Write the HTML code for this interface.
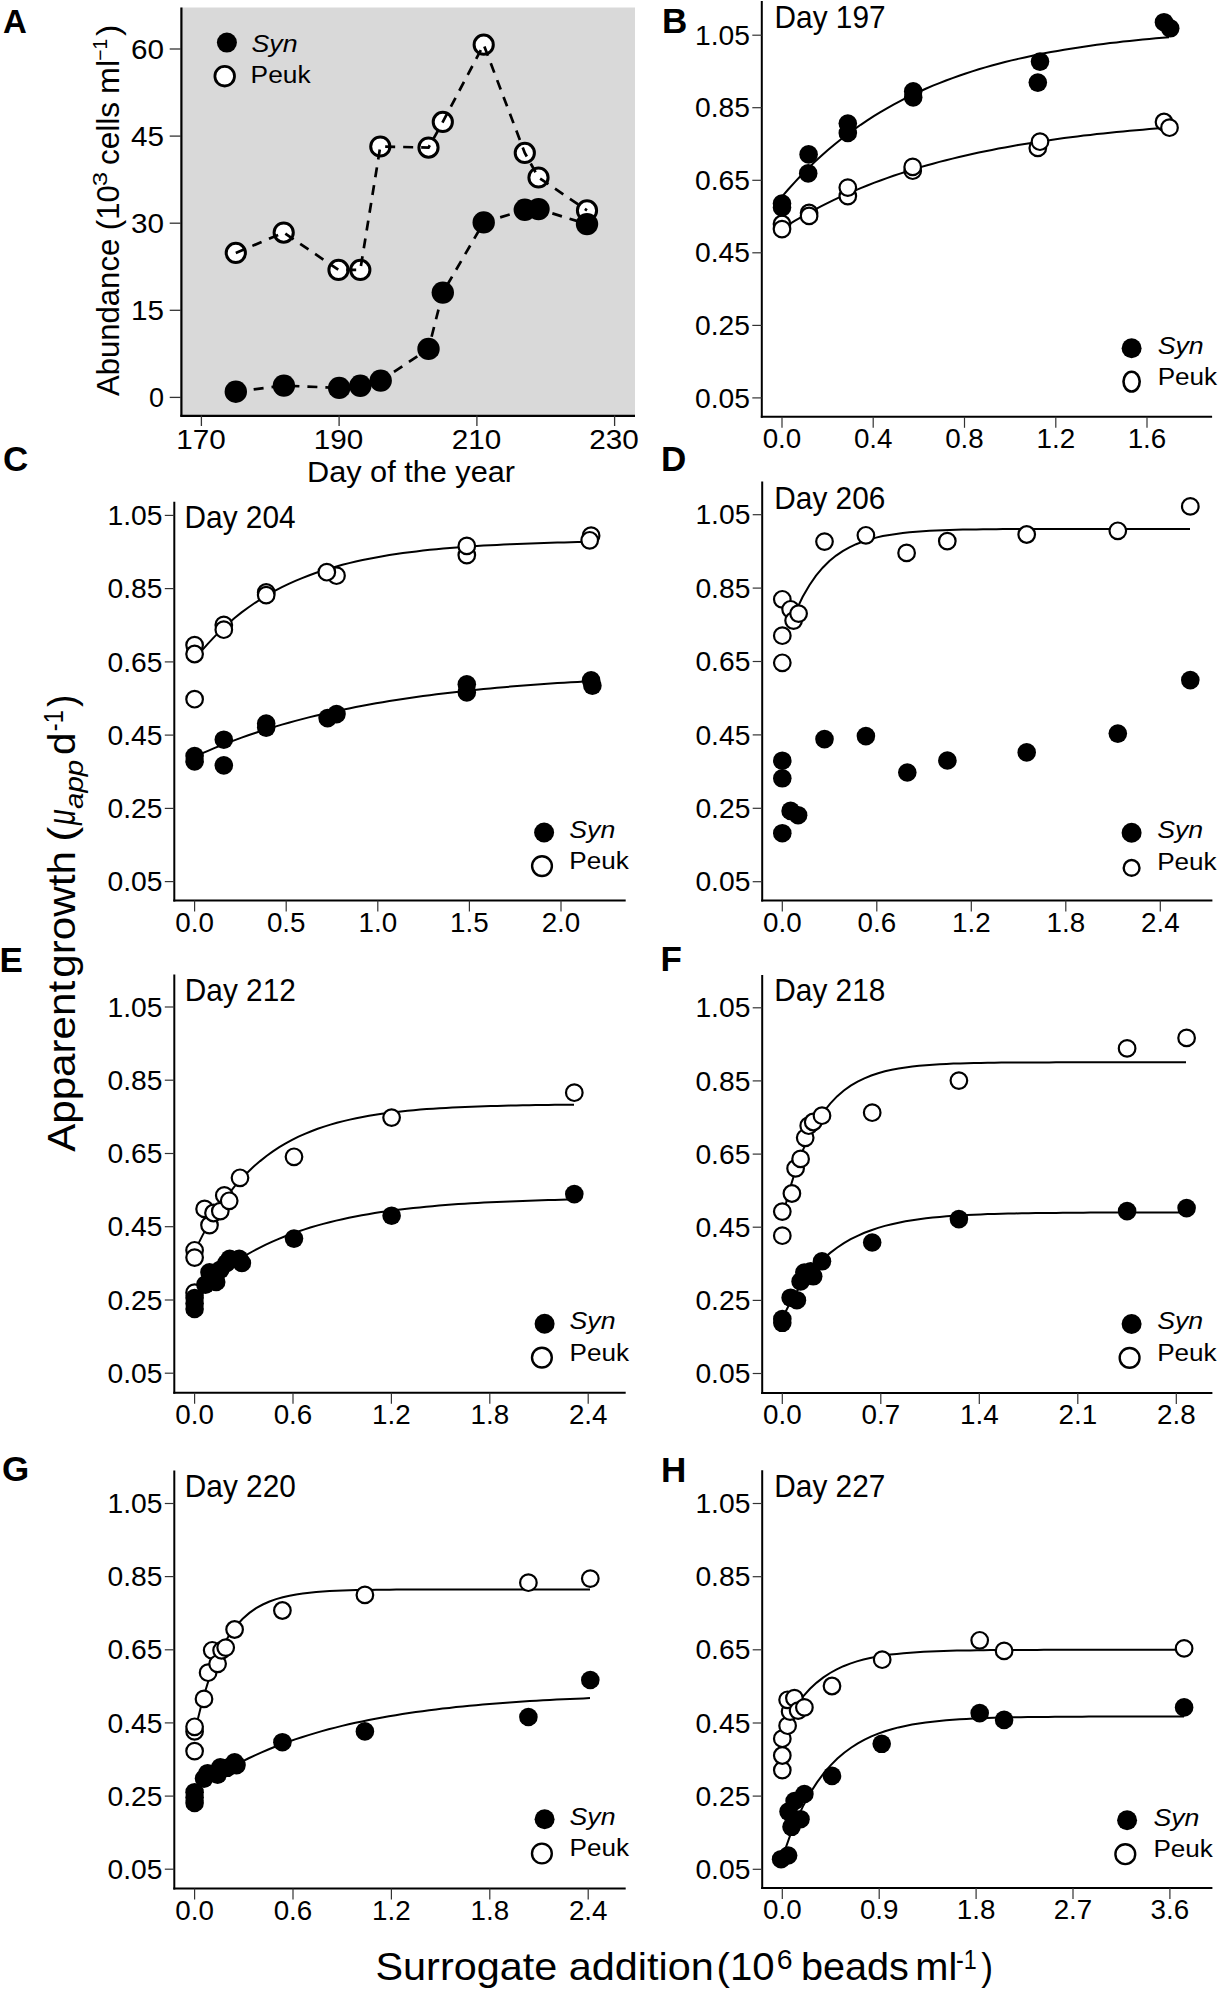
<!DOCTYPE html>
<html><head><meta charset="utf-8"><style>
html,body{margin:0;padding:0;background:#fff;}
svg{display:block;}
text{font-family:"Liberation Sans", sans-serif;fill:#000;}
</style></head><body>
<svg width="1221" height="1992" viewBox="0 0 1221 1992">
<rect width="1221" height="1992" fill="#fff"/>
<rect x="181" y="7.5" width="454" height="408" fill="#d9d9d9"/>
<line x1="181.4" y1="7.5" x2="181.4" y2="416.6" stroke="#000" stroke-width="2.2"/>
<line x1="180.3" y1="415.8" x2="635" y2="415.8" stroke="#000" stroke-width="2.2"/>
<line x1="169.7" y1="397.4" x2="181" y2="397.4" stroke="#333" stroke-width="1.3"/>
<text x="164.0" y="406.9" font-size="27" text-anchor="end" font-weight="normal" font-style="normal" >0</text>
<line x1="169.7" y1="310.3" x2="181" y2="310.3" stroke="#333" stroke-width="1.3"/>
<text x="164.0" y="319.8" font-size="27" text-anchor="end" font-weight="normal" font-style="normal" textLength="33.0" lengthAdjust="spacingAndGlyphs" >15</text>
<line x1="169.7" y1="223.2" x2="181" y2="223.2" stroke="#333" stroke-width="1.3"/>
<text x="164.0" y="232.7" font-size="27" text-anchor="end" font-weight="normal" font-style="normal" textLength="33.0" lengthAdjust="spacingAndGlyphs" >30</text>
<line x1="169.7" y1="136.1" x2="181" y2="136.1" stroke="#333" stroke-width="1.3"/>
<text x="164.0" y="145.6" font-size="27" text-anchor="end" font-weight="normal" font-style="normal" textLength="33.0" lengthAdjust="spacingAndGlyphs" >45</text>
<line x1="169.7" y1="49.0" x2="181" y2="49.0" stroke="#333" stroke-width="1.3"/>
<text x="164.0" y="58.5" font-size="27" text-anchor="end" font-weight="normal" font-style="normal" textLength="33.0" lengthAdjust="spacingAndGlyphs" >60</text>
<line x1="201.4" y1="415.5" x2="201.4" y2="426" stroke="#333" stroke-width="1.3"/>
<text x="200.9" y="448.8" font-size="27" text-anchor="middle" font-weight="normal" font-style="normal" textLength="49.5" lengthAdjust="spacingAndGlyphs" >170</text>
<line x1="339.1" y1="415.5" x2="339.1" y2="426" stroke="#333" stroke-width="1.3"/>
<text x="338.6" y="448.8" font-size="27" text-anchor="middle" font-weight="normal" font-style="normal" textLength="49.5" lengthAdjust="spacingAndGlyphs" >190</text>
<line x1="476.9" y1="415.5" x2="476.9" y2="426" stroke="#333" stroke-width="1.3"/>
<text x="476.4" y="448.8" font-size="27" text-anchor="middle" font-weight="normal" font-style="normal" textLength="49.5" lengthAdjust="spacingAndGlyphs" >210</text>
<line x1="614.6" y1="415.5" x2="614.6" y2="426" stroke="#333" stroke-width="1.3"/>
<text x="614.1" y="448.8" font-size="27" text-anchor="middle" font-weight="normal" font-style="normal" textLength="49.5" lengthAdjust="spacingAndGlyphs" >230</text>
<text x="307.0" y="481.5" font-size="30" text-anchor="start" font-weight="normal" font-style="normal" textLength="208" lengthAdjust="spacingAndGlyphs" >Day of the year</text>
<text x="3.0" y="32.7" font-size="33" text-anchor="start" font-weight="bold" font-style="normal" >A</text>
<circle cx="235.8" cy="252.9" r="9.6" fill="#fff" stroke="#000" stroke-width="3"/>
<circle cx="283.7" cy="232.6" r="9.6" fill="#fff" stroke="#000" stroke-width="3"/>
<circle cx="338.5" cy="269.9" r="9.6" fill="#fff" stroke="#000" stroke-width="3"/>
<circle cx="360.3" cy="269.9" r="9.6" fill="#fff" stroke="#000" stroke-width="3"/>
<circle cx="380.3" cy="146.5" r="9.6" fill="#fff" stroke="#000" stroke-width="3"/>
<circle cx="428.5" cy="147.6" r="9.6" fill="#fff" stroke="#000" stroke-width="3"/>
<circle cx="442.8" cy="121.9" r="9.6" fill="#fff" stroke="#000" stroke-width="3"/>
<circle cx="483.7" cy="44.7" r="9.6" fill="#fff" stroke="#000" stroke-width="3"/>
<circle cx="524.8" cy="152.9" r="9.6" fill="#fff" stroke="#000" stroke-width="3"/>
<circle cx="538.5" cy="177.5" r="9.6" fill="#fff" stroke="#000" stroke-width="3"/>
<circle cx="587.0" cy="210.4" r="9.6" fill="#fff" stroke="#000" stroke-width="3"/>
<circle cx="235.8" cy="391.7" r="11.2" fill="#000"/>
<circle cx="283.9" cy="385.6" r="11.2" fill="#000"/>
<circle cx="339.2" cy="387.9" r="11.2" fill="#000"/>
<circle cx="360.3" cy="385.8" r="11.2" fill="#000"/>
<circle cx="380.7" cy="380.6" r="11.2" fill="#000"/>
<circle cx="428.5" cy="348.9" r="11.2" fill="#000"/>
<circle cx="442.8" cy="292.6" r="11.2" fill="#000"/>
<circle cx="483.7" cy="222.4" r="11.2" fill="#000"/>
<circle cx="524.8" cy="209.8" r="11.2" fill="#000"/>
<circle cx="538.5" cy="209.1" r="11.2" fill="#000"/>
<circle cx="587.0" cy="224.1" r="11.2" fill="#000"/>
<path d="M235.8,252.9 L283.7,232.6 L338.5,269.9 L360.3,269.9 L380.3,146.5 L428.5,147.6 L442.8,121.9 L483.7,44.7 L524.8,152.9 L538.5,177.5 L587,210.4" fill="none" stroke="#000" stroke-width="2.7" stroke-dasharray="10 8"/>
<path d="M235.8,391.7 L283.9,385.6 L339.2,387.9 L360.3,385.8 L380.7,380.6 L428.5,348.9 L442.8,292.6 L483.7,222.4 L524.8,209.8 L538.5,209.1 L587,224.1" fill="none" stroke="#000" stroke-width="2.7" stroke-dasharray="10 8"/>
<circle cx="226.9" cy="42.6" r="10" fill="#000"/>
<circle cx="224.7" cy="76.2" r="9.8" fill="#fff" stroke="#000" stroke-width="2.8"/>
<text x="251.5" y="51.6" font-size="23" text-anchor="start" font-weight="normal" font-style="italic" textLength="46" lengthAdjust="spacingAndGlyphs" >Syn</text>
<text x="250.6" y="82.7" font-size="23" text-anchor="start" font-weight="normal" font-style="normal" textLength="60" lengthAdjust="spacingAndGlyphs" >Peuk</text>
<line x1="761.8" y1="1" x2="761.8" y2="417.8" stroke="#000" stroke-width="2"/>
<line x1="760.8" y1="416.8" x2="1212.1" y2="416.8" stroke="#000" stroke-width="2"/>
<line x1="752.3" y1="35.2" x2="761.8" y2="35.2" stroke="#333" stroke-width="1.2"/>
<text x="750.0" y="44.8" font-size="27" text-anchor="end" font-weight="normal" font-style="normal" textLength="55" lengthAdjust="spacingAndGlyphs" >1.05</text>
<line x1="752.3" y1="107.7" x2="761.8" y2="107.7" stroke="#333" stroke-width="1.2"/>
<text x="750.0" y="117.3" font-size="27" text-anchor="end" font-weight="normal" font-style="normal" textLength="55" lengthAdjust="spacingAndGlyphs" >0.85</text>
<line x1="752.3" y1="180.3" x2="761.8" y2="180.3" stroke="#333" stroke-width="1.2"/>
<text x="750.0" y="189.9" font-size="27" text-anchor="end" font-weight="normal" font-style="normal" textLength="55" lengthAdjust="spacingAndGlyphs" >0.65</text>
<line x1="752.3" y1="252.8" x2="761.8" y2="252.8" stroke="#333" stroke-width="1.2"/>
<text x="750.0" y="262.4" font-size="27" text-anchor="end" font-weight="normal" font-style="normal" textLength="55" lengthAdjust="spacingAndGlyphs" >0.45</text>
<line x1="752.3" y1="325.4" x2="761.8" y2="325.4" stroke="#333" stroke-width="1.2"/>
<text x="750.0" y="335.0" font-size="27" text-anchor="end" font-weight="normal" font-style="normal" textLength="55" lengthAdjust="spacingAndGlyphs" >0.25</text>
<line x1="752.3" y1="397.9" x2="761.8" y2="397.9" stroke="#333" stroke-width="1.2"/>
<text x="750.0" y="407.5" font-size="27" text-anchor="end" font-weight="normal" font-style="normal" textLength="55" lengthAdjust="spacingAndGlyphs" >0.05</text>
<line x1="782.0" y1="416.8" x2="782.0" y2="427.8" stroke="#333" stroke-width="1.2"/>
<text x="782.0" y="448.1" font-size="27" text-anchor="middle" font-weight="normal" font-style="normal" textLength="38.6" lengthAdjust="spacingAndGlyphs" >0.0</text>
<line x1="873.2" y1="416.8" x2="873.2" y2="427.8" stroke="#333" stroke-width="1.2"/>
<text x="873.2" y="448.1" font-size="27" text-anchor="middle" font-weight="normal" font-style="normal" textLength="38.6" lengthAdjust="spacingAndGlyphs" >0.4</text>
<line x1="964.5" y1="416.8" x2="964.5" y2="427.8" stroke="#333" stroke-width="1.2"/>
<text x="964.5" y="448.1" font-size="27" text-anchor="middle" font-weight="normal" font-style="normal" textLength="38.6" lengthAdjust="spacingAndGlyphs" >0.8</text>
<line x1="1055.8" y1="416.8" x2="1055.8" y2="427.8" stroke="#333" stroke-width="1.2"/>
<text x="1055.8" y="448.1" font-size="27" text-anchor="middle" font-weight="normal" font-style="normal" textLength="38.6" lengthAdjust="spacingAndGlyphs" >1.2</text>
<line x1="1147.0" y1="416.8" x2="1147.0" y2="427.8" stroke="#333" stroke-width="1.2"/>
<text x="1147.0" y="448.1" font-size="27" text-anchor="middle" font-weight="normal" font-style="normal" textLength="38.6" lengthAdjust="spacingAndGlyphs" >1.6</text>
<text x="774.6" y="28.0" font-size="30.5" text-anchor="start" font-weight="normal" font-style="normal" textLength="111" lengthAdjust="spacingAndGlyphs" >Day 197</text>
<text x="662.0" y="33.3" font-size="35" text-anchor="start" font-weight="bold" font-style="normal" >B</text>
<path d="M782.0,196.6 L788.6,189.0 L795.1,181.8 L801.7,174.8 L808.2,168.2 L814.8,161.9 L821.4,155.8 L827.9,150.0 L834.5,144.5 L841.0,139.2 L847.6,134.2 L854.2,129.4 L860.7,124.8 L867.3,120.4 L873.8,116.1 L880.4,112.1 L886.9,108.3 L893.5,104.6 L900.1,101.1 L906.6,97.7 L913.2,94.5 L919.7,91.5 L926.3,88.5 L932.9,85.7 L939.4,83.1 L946.0,80.5 L952.5,78.1 L959.1,75.7 L965.7,73.5 L972.2,71.4 L978.8,69.3 L985.3,67.4 L991.9,65.5 L998.5,63.7 L1005.0,62.0 L1011.6,60.4 L1018.1,58.9 L1024.7,57.4 L1031.3,56.0 L1037.8,54.6 L1044.4,53.3 L1050.9,52.1 L1057.5,50.9 L1064.1,49.8 L1070.6,48.7 L1077.2,47.7 L1083.7,46.7 L1090.3,45.7 L1096.8,44.8 L1103.4,44.0 L1110.0,43.1 L1116.5,42.4 L1123.1,41.6 L1129.6,40.9 L1136.2,40.2 L1142.8,39.5 L1149.3,38.9 L1155.9,38.3 L1162.4,37.7 L1169.0,37.2" fill="none" stroke="#000" stroke-width="2"/>
<path d="M782.0,228.7 L788.6,224.6 L795.1,220.6 L801.7,216.8 L808.2,213.2 L814.8,209.6 L821.4,206.2 L827.9,202.9 L834.5,199.7 L841.0,196.7 L847.6,193.7 L854.2,190.9 L860.7,188.1 L867.3,185.5 L873.8,182.9 L880.4,180.5 L886.9,178.1 L893.5,175.8 L900.1,173.6 L906.6,171.5 L913.2,169.4 L919.7,167.4 L926.3,165.5 L932.9,163.7 L939.4,161.9 L946.0,160.2 L952.5,158.6 L959.1,157.0 L965.7,155.5 L972.2,154.0 L978.8,152.6 L985.3,151.2 L991.9,149.9 L998.5,148.6 L1005.0,147.4 L1011.6,146.2 L1018.1,145.0 L1024.7,143.9 L1031.3,142.9 L1037.8,141.8 L1044.4,140.9 L1050.9,139.9 L1057.5,139.0 L1064.1,138.1 L1070.6,137.3 L1077.2,136.4 L1083.7,135.6 L1090.3,134.9 L1096.8,134.1 L1103.4,133.4 L1110.0,132.7 L1116.5,132.1 L1123.1,131.4 L1129.6,130.8 L1136.2,130.2 L1142.8,129.7 L1149.3,129.1 L1155.9,128.6 L1162.4,128.1 L1169.0,127.6" fill="none" stroke="#000" stroke-width="2"/>
<circle cx="782.0" cy="224.0" r="8.3" fill="#fff" stroke="#000" stroke-width="2.2"/>
<circle cx="782.0" cy="229.1" r="8.3" fill="#fff" stroke="#000" stroke-width="2.2"/>
<circle cx="809.1" cy="213.0" r="8.3" fill="#fff" stroke="#000" stroke-width="2.2"/>
<circle cx="809.1" cy="215.9" r="8.3" fill="#fff" stroke="#000" stroke-width="2.2"/>
<circle cx="847.8" cy="196.1" r="8.3" fill="#fff" stroke="#000" stroke-width="2.2"/>
<circle cx="847.8" cy="187.6" r="8.3" fill="#fff" stroke="#000" stroke-width="2.2"/>
<circle cx="912.7" cy="170.7" r="8.3" fill="#fff" stroke="#000" stroke-width="2.2"/>
<circle cx="912.7" cy="166.9" r="8.3" fill="#fff" stroke="#000" stroke-width="2.2"/>
<circle cx="1164.0" cy="122.0" r="8.3" fill="#fff" stroke="#000" stroke-width="2.2"/>
<circle cx="1169.5" cy="127.7" r="8.3" fill="#fff" stroke="#000" stroke-width="2.2"/>
<circle cx="1037.8" cy="147.9" r="8.3" fill="#fff" stroke="#000" stroke-width="2.2"/>
<circle cx="1040.0" cy="141.7" r="8.3" fill="#fff" stroke="#000" stroke-width="2.2"/>
<circle cx="782.0" cy="203.5" r="9.3" fill="#000"/>
<circle cx="782.0" cy="207.5" r="9.3" fill="#000"/>
<circle cx="808.6" cy="154.4" r="9.3" fill="#000"/>
<circle cx="808.2" cy="173.4" r="9.3" fill="#000"/>
<circle cx="847.8" cy="123.5" r="9.3" fill="#000"/>
<circle cx="847.8" cy="133.0" r="9.3" fill="#000"/>
<circle cx="913.2" cy="91.4" r="9.3" fill="#000"/>
<circle cx="913.2" cy="97.4" r="9.3" fill="#000"/>
<circle cx="1164.0" cy="22.2" r="9.3" fill="#000"/>
<circle cx="1170.2" cy="28.3" r="9.3" fill="#000"/>
<circle cx="1040.0" cy="61.6" r="9.3" fill="#000"/>
<circle cx="1037.8" cy="82.6" r="9.3" fill="#000"/>
<circle cx="1131.6" cy="348.2" r="10" fill="#000"/>
<ellipse cx="1131.6" cy="381.6" rx="8.1" ry="9.9" fill="#fff" stroke="#000" stroke-width="2.6"/>
<text x="1157.7" y="353.5" font-size="23" text-anchor="start" font-weight="normal" font-style="italic" textLength="46" lengthAdjust="spacingAndGlyphs" >Syn</text>
<text x="1157.7" y="385.0" font-size="23" text-anchor="start" font-weight="normal" font-style="normal" textLength="59.5" lengthAdjust="spacingAndGlyphs" >Peuk</text>
<line x1="174.3" y1="501.8" x2="174.3" y2="901.5" stroke="#000" stroke-width="2"/>
<line x1="173.3" y1="900.5" x2="625.7" y2="900.5" stroke="#000" stroke-width="2"/>
<line x1="164.8" y1="515.4" x2="174.3" y2="515.4" stroke="#333" stroke-width="1.2"/>
<text x="162.5" y="525.0" font-size="27" text-anchor="end" font-weight="normal" font-style="normal" textLength="55" lengthAdjust="spacingAndGlyphs" >1.05</text>
<line x1="164.8" y1="588.6" x2="174.3" y2="588.6" stroke="#333" stroke-width="1.2"/>
<text x="162.5" y="598.2" font-size="27" text-anchor="end" font-weight="normal" font-style="normal" textLength="55" lengthAdjust="spacingAndGlyphs" >0.85</text>
<line x1="164.8" y1="661.9" x2="174.3" y2="661.9" stroke="#333" stroke-width="1.2"/>
<text x="162.5" y="671.5" font-size="27" text-anchor="end" font-weight="normal" font-style="normal" textLength="55" lengthAdjust="spacingAndGlyphs" >0.65</text>
<line x1="164.8" y1="735.1" x2="174.3" y2="735.1" stroke="#333" stroke-width="1.2"/>
<text x="162.5" y="744.7" font-size="27" text-anchor="end" font-weight="normal" font-style="normal" textLength="55" lengthAdjust="spacingAndGlyphs" >0.45</text>
<line x1="164.8" y1="808.4" x2="174.3" y2="808.4" stroke="#333" stroke-width="1.2"/>
<text x="162.5" y="818.0" font-size="27" text-anchor="end" font-weight="normal" font-style="normal" textLength="55" lengthAdjust="spacingAndGlyphs" >0.25</text>
<line x1="164.8" y1="881.6" x2="174.3" y2="881.6" stroke="#333" stroke-width="1.2"/>
<text x="162.5" y="891.2" font-size="27" text-anchor="end" font-weight="normal" font-style="normal" textLength="55" lengthAdjust="spacingAndGlyphs" >0.05</text>
<line x1="194.6" y1="900.5" x2="194.6" y2="911.5" stroke="#333" stroke-width="1.2"/>
<text x="194.6" y="931.8" font-size="27" text-anchor="middle" font-weight="normal" font-style="normal" textLength="38.6" lengthAdjust="spacingAndGlyphs" >0.0</text>
<line x1="286.2" y1="900.5" x2="286.2" y2="911.5" stroke="#333" stroke-width="1.2"/>
<text x="286.2" y="931.8" font-size="27" text-anchor="middle" font-weight="normal" font-style="normal" textLength="38.6" lengthAdjust="spacingAndGlyphs" >0.5</text>
<line x1="377.8" y1="900.5" x2="377.8" y2="911.5" stroke="#333" stroke-width="1.2"/>
<text x="377.8" y="931.8" font-size="27" text-anchor="middle" font-weight="normal" font-style="normal" textLength="38.6" lengthAdjust="spacingAndGlyphs" >1.0</text>
<line x1="469.4" y1="900.5" x2="469.4" y2="911.5" stroke="#333" stroke-width="1.2"/>
<text x="469.4" y="931.8" font-size="27" text-anchor="middle" font-weight="normal" font-style="normal" textLength="38.6" lengthAdjust="spacingAndGlyphs" >1.5</text>
<line x1="561.0" y1="900.5" x2="561.0" y2="911.5" stroke="#333" stroke-width="1.2"/>
<text x="561.0" y="931.8" font-size="27" text-anchor="middle" font-weight="normal" font-style="normal" textLength="38.6" lengthAdjust="spacingAndGlyphs" >2.0</text>
<text x="184.6" y="528.3" font-size="30.5" text-anchor="start" font-weight="normal" font-style="normal" textLength="111" lengthAdjust="spacingAndGlyphs" >Day 204</text>
<text x="3.0" y="471.0" font-size="35" text-anchor="start" font-weight="bold" font-style="normal" >C</text>
<path d="M194.6,756.7 L201.3,753.7 L208.0,750.8 L214.8,747.9 L221.5,745.2 L228.2,742.6 L234.9,740.1 L241.6,737.6 L248.3,735.2 L255.1,733.0 L261.8,730.8 L268.5,728.7 L275.2,726.6 L281.9,724.6 L288.7,722.7 L295.4,720.9 L302.1,719.1 L308.8,717.4 L315.5,715.8 L322.3,714.2 L329.0,712.6 L335.7,711.2 L342.4,709.7 L349.1,708.4 L355.8,707.0 L362.6,705.8 L369.3,704.5 L376.0,703.3 L382.7,702.2 L389.4,701.1 L396.2,700.0 L402.9,699.0 L409.6,698.0 L416.3,697.0 L423.0,696.1 L429.8,695.2 L436.5,694.3 L443.2,693.5 L449.9,692.7 L456.6,691.9 L463.3,691.2 L470.1,690.5 L476.8,689.8 L483.5,689.1 L490.2,688.4 L496.9,687.8 L503.7,687.2 L510.4,686.6 L517.1,686.1 L523.8,685.5 L530.5,685.0 L537.3,684.5 L544.0,684.0 L550.7,683.6 L557.4,683.1 L564.1,682.7 L570.8,682.3 L577.6,681.9 L584.3,681.5 L591.0,681.1" fill="none" stroke="#000" stroke-width="2"/>
<path d="M194.6,659.5 L201.3,651.2 L208.0,643.6 L214.8,636.4 L221.5,629.8 L228.2,623.6 L234.9,617.8 L241.6,612.4 L248.3,607.5 L255.1,602.8 L261.8,598.5 L268.5,594.4 L275.2,590.7 L281.9,587.2 L288.7,583.9 L295.4,580.9 L302.1,578.1 L308.8,575.5 L315.5,573.0 L322.3,570.8 L329.0,568.6 L335.7,566.7 L342.4,564.8 L349.1,563.1 L355.8,561.5 L362.6,560.1 L369.3,558.7 L376.0,557.4 L382.7,556.2 L389.4,555.1 L396.2,554.0 L402.9,553.1 L409.6,552.2 L416.3,551.4 L423.0,550.6 L429.8,549.8 L436.5,549.2 L443.2,548.5 L449.9,548.0 L456.6,547.4 L463.3,546.9 L470.1,546.4 L476.8,546.0 L483.5,545.6 L490.2,545.2 L496.9,544.9 L503.7,544.5 L510.4,544.2 L517.1,543.9 L523.8,543.7 L530.5,543.4 L537.3,543.2 L544.0,543.0 L550.7,542.8 L557.4,542.6 L564.1,542.4 L570.8,542.3 L577.6,542.1 L584.3,542.0 L591.0,541.8" fill="none" stroke="#000" stroke-width="2"/>
<circle cx="194.6" cy="645.1" r="8.3" fill="#fff" stroke="#000" stroke-width="2.2"/>
<circle cx="194.6" cy="654.0" r="8.3" fill="#fff" stroke="#000" stroke-width="2.2"/>
<circle cx="194.6" cy="699.2" r="8.3" fill="#fff" stroke="#000" stroke-width="2.2"/>
<circle cx="223.8" cy="624.9" r="8.3" fill="#fff" stroke="#000" stroke-width="2.2"/>
<circle cx="223.8" cy="629.7" r="8.3" fill="#fff" stroke="#000" stroke-width="2.2"/>
<circle cx="266.2" cy="592.4" r="8.3" fill="#fff" stroke="#000" stroke-width="2.2"/>
<circle cx="266.2" cy="595.1" r="8.3" fill="#fff" stroke="#000" stroke-width="2.2"/>
<circle cx="336.5" cy="575.7" r="8.3" fill="#fff" stroke="#000" stroke-width="2.2"/>
<circle cx="326.8" cy="572.2" r="8.3" fill="#fff" stroke="#000" stroke-width="2.2"/>
<circle cx="466.8" cy="555.1" r="8.3" fill="#fff" stroke="#000" stroke-width="2.2"/>
<circle cx="466.8" cy="545.9" r="8.3" fill="#fff" stroke="#000" stroke-width="2.2"/>
<circle cx="591.1" cy="535.7" r="8.3" fill="#fff" stroke="#000" stroke-width="2.2"/>
<circle cx="589.7" cy="540.3" r="8.3" fill="#fff" stroke="#000" stroke-width="2.2"/>
<circle cx="194.6" cy="756.0" r="9.3" fill="#000"/>
<circle cx="194.6" cy="761.4" r="9.3" fill="#000"/>
<circle cx="223.8" cy="739.7" r="9.3" fill="#000"/>
<circle cx="223.8" cy="765.4" r="9.3" fill="#000"/>
<circle cx="266.2" cy="723.5" r="9.3" fill="#000"/>
<circle cx="266.2" cy="727.6" r="9.3" fill="#000"/>
<circle cx="327.6" cy="718.1" r="9.3" fill="#000"/>
<circle cx="336.5" cy="714.1" r="9.3" fill="#000"/>
<circle cx="466.8" cy="684.3" r="9.3" fill="#000"/>
<circle cx="466.8" cy="692.4" r="9.3" fill="#000"/>
<circle cx="591.1" cy="680.3" r="9.3" fill="#000"/>
<circle cx="592.4" cy="685.7" r="9.3" fill="#000"/>
<circle cx="544.1" cy="832.5" r="10" fill="#000"/>
<circle cx="542.0" cy="866.1" r="9.9" fill="#fff" stroke="#000" stroke-width="2.4"/>
<text x="569.3" y="837.8" font-size="23" text-anchor="start" font-weight="normal" font-style="italic" textLength="46" lengthAdjust="spacingAndGlyphs" >Syn</text>
<text x="569.3" y="869.3" font-size="23" text-anchor="start" font-weight="normal" font-style="normal" textLength="59.5" lengthAdjust="spacingAndGlyphs" >Peuk</text>
<line x1="762.2" y1="481.5" x2="762.2" y2="901.5" stroke="#000" stroke-width="2"/>
<line x1="761.2" y1="900.5" x2="1212.4" y2="900.5" stroke="#000" stroke-width="2"/>
<line x1="752.7" y1="514.7" x2="762.2" y2="514.7" stroke="#333" stroke-width="1.2"/>
<text x="750.4" y="524.3" font-size="27" text-anchor="end" font-weight="normal" font-style="normal" textLength="55" lengthAdjust="spacingAndGlyphs" >1.05</text>
<line x1="752.7" y1="588.1" x2="762.2" y2="588.1" stroke="#333" stroke-width="1.2"/>
<text x="750.4" y="597.7" font-size="27" text-anchor="end" font-weight="normal" font-style="normal" textLength="55" lengthAdjust="spacingAndGlyphs" >0.85</text>
<line x1="752.7" y1="661.5" x2="762.2" y2="661.5" stroke="#333" stroke-width="1.2"/>
<text x="750.4" y="671.1" font-size="27" text-anchor="end" font-weight="normal" font-style="normal" textLength="55" lengthAdjust="spacingAndGlyphs" >0.65</text>
<line x1="752.7" y1="734.9" x2="762.2" y2="734.9" stroke="#333" stroke-width="1.2"/>
<text x="750.4" y="744.5" font-size="27" text-anchor="end" font-weight="normal" font-style="normal" textLength="55" lengthAdjust="spacingAndGlyphs" >0.45</text>
<line x1="752.7" y1="808.3" x2="762.2" y2="808.3" stroke="#333" stroke-width="1.2"/>
<text x="750.4" y="817.9" font-size="27" text-anchor="end" font-weight="normal" font-style="normal" textLength="55" lengthAdjust="spacingAndGlyphs" >0.25</text>
<line x1="752.7" y1="881.7" x2="762.2" y2="881.7" stroke="#333" stroke-width="1.2"/>
<text x="750.4" y="891.3" font-size="27" text-anchor="end" font-weight="normal" font-style="normal" textLength="55" lengthAdjust="spacingAndGlyphs" >0.05</text>
<line x1="782.3" y1="900.5" x2="782.3" y2="911.5" stroke="#333" stroke-width="1.2"/>
<text x="782.3" y="931.8" font-size="27" text-anchor="middle" font-weight="normal" font-style="normal" textLength="38.6" lengthAdjust="spacingAndGlyphs" >0.0</text>
<line x1="876.8" y1="900.5" x2="876.8" y2="911.5" stroke="#333" stroke-width="1.2"/>
<text x="876.8" y="931.8" font-size="27" text-anchor="middle" font-weight="normal" font-style="normal" textLength="38.6" lengthAdjust="spacingAndGlyphs" >0.6</text>
<line x1="971.3" y1="900.5" x2="971.3" y2="911.5" stroke="#333" stroke-width="1.2"/>
<text x="971.3" y="931.8" font-size="27" text-anchor="middle" font-weight="normal" font-style="normal" textLength="38.6" lengthAdjust="spacingAndGlyphs" >1.2</text>
<line x1="1065.8" y1="900.5" x2="1065.8" y2="911.5" stroke="#333" stroke-width="1.2"/>
<text x="1065.8" y="931.8" font-size="27" text-anchor="middle" font-weight="normal" font-style="normal" textLength="38.6" lengthAdjust="spacingAndGlyphs" >1.8</text>
<line x1="1160.3" y1="900.5" x2="1160.3" y2="911.5" stroke="#333" stroke-width="1.2"/>
<text x="1160.3" y="931.8" font-size="27" text-anchor="middle" font-weight="normal" font-style="normal" textLength="38.6" lengthAdjust="spacingAndGlyphs" >2.4</text>
<text x="774.3" y="508.7" font-size="30.5" text-anchor="start" font-weight="normal" font-style="normal" textLength="111" lengthAdjust="spacingAndGlyphs" >Day 206</text>
<text x="661.0" y="471.3" font-size="35" text-anchor="start" font-weight="bold" font-style="normal" >D</text>
<path d="M796.0,610.7 L802.7,596.8 L809.4,585.2 L816.0,575.6 L822.7,567.7 L829.4,561.1 L836.1,555.6 L842.7,551.1 L849.4,547.3 L856.1,544.2 L862.8,541.6 L869.5,539.4 L876.1,537.6 L882.8,536.1 L889.5,534.9 L896.2,533.9 L902.8,533.0 L909.5,532.3 L916.2,531.7 L922.9,531.2 L929.6,530.8 L936.2,530.5 L942.9,530.2 L949.6,530.0 L956.3,529.8 L962.9,529.6 L969.6,529.5 L976.3,529.4 L983.0,529.3 L989.7,529.2 L996.3,529.2 L1003.0,529.1 L1009.7,529.1 L1016.4,529.0 L1023.1,529.0 L1029.7,529.0 L1036.4,529.0 L1043.1,529.0 L1049.8,528.9 L1056.4,528.9 L1063.1,528.9 L1069.8,528.9 L1076.5,528.9 L1083.2,528.9 L1089.8,528.9 L1096.5,528.9 L1103.2,528.9 L1109.9,528.9 L1116.5,528.9 L1123.2,528.9 L1129.9,528.9 L1136.6,528.9 L1143.3,528.9 L1149.9,528.9 L1156.6,528.9 L1163.3,528.9 L1170.0,528.9 L1176.6,528.9 L1183.3,528.9 L1190.0,528.9" fill="none" stroke="#000" stroke-width="2"/>
<circle cx="782.3" cy="599.3" r="8.3" fill="#fff" stroke="#000" stroke-width="2.2"/>
<circle cx="790.6" cy="609.3" r="8.3" fill="#fff" stroke="#000" stroke-width="2.2"/>
<circle cx="793.6" cy="620.6" r="8.3" fill="#fff" stroke="#000" stroke-width="2.2"/>
<circle cx="798.6" cy="613.6" r="8.3" fill="#fff" stroke="#000" stroke-width="2.2"/>
<circle cx="782.3" cy="635.7" r="8.3" fill="#fff" stroke="#000" stroke-width="2.2"/>
<circle cx="782.3" cy="662.8" r="8.3" fill="#fff" stroke="#000" stroke-width="2.2"/>
<circle cx="824.5" cy="541.6" r="8.3" fill="#fff" stroke="#000" stroke-width="2.2"/>
<circle cx="865.9" cy="535.3" r="8.3" fill="#fff" stroke="#000" stroke-width="2.2"/>
<circle cx="906.6" cy="552.9" r="8.3" fill="#fff" stroke="#000" stroke-width="2.2"/>
<circle cx="947.3" cy="541.1" r="8.3" fill="#fff" stroke="#000" stroke-width="2.2"/>
<circle cx="1026.7" cy="534.5" r="8.3" fill="#fff" stroke="#000" stroke-width="2.2"/>
<circle cx="1117.8" cy="530.8" r="8.3" fill="#fff" stroke="#000" stroke-width="2.2"/>
<circle cx="1190.3" cy="506.4" r="8.3" fill="#fff" stroke="#000" stroke-width="2.2"/>
<circle cx="782.3" cy="760.7" r="9.3" fill="#000"/>
<circle cx="782.3" cy="778.3" r="9.3" fill="#000"/>
<circle cx="782.3" cy="833.2" r="9.3" fill="#000"/>
<circle cx="790.6" cy="810.9" r="9.3" fill="#000"/>
<circle cx="798.1" cy="815.2" r="9.3" fill="#000"/>
<circle cx="824.5" cy="739.1" r="9.3" fill="#000"/>
<circle cx="865.9" cy="736.1" r="9.3" fill="#000"/>
<circle cx="907.3" cy="772.5" r="9.3" fill="#000"/>
<circle cx="947.4" cy="760.5" r="9.3" fill="#000"/>
<circle cx="1026.7" cy="752.4" r="9.3" fill="#000"/>
<circle cx="1117.8" cy="733.6" r="9.3" fill="#000"/>
<circle cx="1190.3" cy="680.1" r="9.3" fill="#000"/>
<circle cx="1131.6" cy="832.7" r="10" fill="#000"/>
<circle cx="1131.6" cy="867.9" r="7.9" fill="#fff" stroke="#000" stroke-width="2.4"/>
<text x="1157.2" y="838.0" font-size="23" text-anchor="start" font-weight="normal" font-style="italic" textLength="46" lengthAdjust="spacingAndGlyphs" >Syn</text>
<text x="1157.2" y="869.5" font-size="23" text-anchor="start" font-weight="normal" font-style="normal" textLength="59.5" lengthAdjust="spacingAndGlyphs" >Peuk</text>
<line x1="174.3" y1="974.6" x2="174.3" y2="1393.7" stroke="#000" stroke-width="2"/>
<line x1="173.3" y1="1392.7" x2="625.7" y2="1392.7" stroke="#000" stroke-width="2"/>
<line x1="164.8" y1="1007.0" x2="174.3" y2="1007.0" stroke="#333" stroke-width="1.2"/>
<text x="162.5" y="1016.6" font-size="27" text-anchor="end" font-weight="normal" font-style="normal" textLength="55" lengthAdjust="spacingAndGlyphs" >1.05</text>
<line x1="164.8" y1="1080.2" x2="174.3" y2="1080.2" stroke="#333" stroke-width="1.2"/>
<text x="162.5" y="1089.8" font-size="27" text-anchor="end" font-weight="normal" font-style="normal" textLength="55" lengthAdjust="spacingAndGlyphs" >0.85</text>
<line x1="164.8" y1="1153.5" x2="174.3" y2="1153.5" stroke="#333" stroke-width="1.2"/>
<text x="162.5" y="1163.1" font-size="27" text-anchor="end" font-weight="normal" font-style="normal" textLength="55" lengthAdjust="spacingAndGlyphs" >0.65</text>
<line x1="164.8" y1="1226.7" x2="174.3" y2="1226.7" stroke="#333" stroke-width="1.2"/>
<text x="162.5" y="1236.3" font-size="27" text-anchor="end" font-weight="normal" font-style="normal" textLength="55" lengthAdjust="spacingAndGlyphs" >0.45</text>
<line x1="164.8" y1="1300.0" x2="174.3" y2="1300.0" stroke="#333" stroke-width="1.2"/>
<text x="162.5" y="1309.6" font-size="27" text-anchor="end" font-weight="normal" font-style="normal" textLength="55" lengthAdjust="spacingAndGlyphs" >0.25</text>
<line x1="164.8" y1="1373.2" x2="174.3" y2="1373.2" stroke="#333" stroke-width="1.2"/>
<text x="162.5" y="1382.8" font-size="27" text-anchor="end" font-weight="normal" font-style="normal" textLength="55" lengthAdjust="spacingAndGlyphs" >0.05</text>
<line x1="194.6" y1="1392.7" x2="194.6" y2="1403.7" stroke="#333" stroke-width="1.2"/>
<text x="194.6" y="1424.0" font-size="27" text-anchor="middle" font-weight="normal" font-style="normal" textLength="38.6" lengthAdjust="spacingAndGlyphs" >0.0</text>
<line x1="293.0" y1="1392.7" x2="293.0" y2="1403.7" stroke="#333" stroke-width="1.2"/>
<text x="293.0" y="1424.0" font-size="27" text-anchor="middle" font-weight="normal" font-style="normal" textLength="38.6" lengthAdjust="spacingAndGlyphs" >0.6</text>
<line x1="391.4" y1="1392.7" x2="391.4" y2="1403.7" stroke="#333" stroke-width="1.2"/>
<text x="391.4" y="1424.0" font-size="27" text-anchor="middle" font-weight="normal" font-style="normal" textLength="38.6" lengthAdjust="spacingAndGlyphs" >1.2</text>
<line x1="489.8" y1="1392.7" x2="489.8" y2="1403.7" stroke="#333" stroke-width="1.2"/>
<text x="489.8" y="1424.0" font-size="27" text-anchor="middle" font-weight="normal" font-style="normal" textLength="38.6" lengthAdjust="spacingAndGlyphs" >1.8</text>
<line x1="588.2" y1="1392.7" x2="588.2" y2="1403.7" stroke="#333" stroke-width="1.2"/>
<text x="588.2" y="1424.0" font-size="27" text-anchor="middle" font-weight="normal" font-style="normal" textLength="38.6" lengthAdjust="spacingAndGlyphs" >2.4</text>
<text x="184.8" y="1000.5" font-size="30.5" text-anchor="start" font-weight="normal" font-style="normal" textLength="111" lengthAdjust="spacingAndGlyphs" >Day 212</text>
<text x="-0.5" y="971.9" font-size="35" text-anchor="start" font-weight="bold" font-style="normal" >E</text>
<path d="M194.6,1294.4 L201.0,1288.3 L207.5,1282.6 L213.9,1277.3 L220.3,1272.2 L226.8,1267.5 L233.2,1263.1 L239.6,1259.0 L246.0,1255.1 L252.5,1251.5 L258.9,1248.1 L265.3,1244.9 L271.8,1241.9 L278.2,1239.1 L284.6,1236.5 L291.1,1234.0 L297.5,1231.7 L303.9,1229.6 L310.3,1227.5 L316.8,1225.6 L323.2,1223.9 L329.6,1222.2 L336.1,1220.6 L342.5,1219.2 L348.9,1217.8 L355.4,1216.5 L361.8,1215.3 L368.2,1214.2 L374.7,1213.1 L381.1,1212.1 L387.5,1211.2 L393.9,1210.3 L400.4,1209.5 L406.8,1208.8 L413.2,1208.0 L419.7,1207.4 L426.1,1206.7 L432.5,1206.2 L439.0,1205.6 L445.4,1205.1 L451.8,1204.6 L458.3,1204.1 L464.7,1203.7 L471.1,1203.3 L477.5,1202.9 L484.0,1202.6 L490.4,1202.3 L496.8,1202.0 L503.3,1201.7 L509.7,1201.4 L516.1,1201.2 L522.6,1200.9 L529.0,1200.7 L535.4,1200.5 L541.8,1200.3 L548.3,1200.1 L554.7,1199.9 L561.1,1199.8 L567.6,1199.6 L574.0,1199.5" fill="none" stroke="#000" stroke-width="2"/>
<path d="M196.0,1248.4 L202.4,1235.6 L208.8,1223.9 L215.2,1213.3 L221.6,1203.6 L228.0,1194.8 L234.4,1186.7 L240.8,1179.4 L247.3,1172.7 L253.7,1166.6 L260.1,1161.1 L266.5,1156.0 L272.9,1151.4 L279.3,1147.2 L285.7,1143.4 L292.1,1139.9 L298.5,1136.7 L304.9,1133.8 L311.3,1131.2 L317.7,1128.8 L324.1,1126.6 L330.5,1124.6 L336.9,1122.8 L343.4,1121.1 L349.8,1119.6 L356.2,1118.2 L362.6,1117.0 L369.0,1115.8 L375.4,1114.8 L381.8,1113.8 L388.2,1112.9 L394.6,1112.2 L401.0,1111.4 L407.4,1110.8 L413.8,1110.2 L420.2,1109.6 L426.6,1109.1 L433.1,1108.7 L439.5,1108.3 L445.9,1107.9 L452.3,1107.6 L458.7,1107.3 L465.1,1107.0 L471.5,1106.7 L477.9,1106.5 L484.3,1106.3 L490.7,1106.1 L497.1,1105.9 L503.5,1105.7 L509.9,1105.6 L516.3,1105.4 L522.7,1105.3 L529.2,1105.2 L535.6,1105.1 L542.0,1105.0 L548.4,1104.9 L554.8,1104.8 L561.2,1104.8 L567.6,1104.7 L574.0,1104.7" fill="none" stroke="#000" stroke-width="2"/>
<circle cx="194.6" cy="1292.7" r="8.3" fill="#fff" stroke="#000" stroke-width="2.2"/>
<circle cx="194.6" cy="1250.3" r="8.3" fill="#fff" stroke="#000" stroke-width="2.2"/>
<circle cx="194.6" cy="1257.6" r="8.3" fill="#fff" stroke="#000" stroke-width="2.2"/>
<circle cx="204.6" cy="1208.9" r="8.3" fill="#fff" stroke="#000" stroke-width="2.2"/>
<circle cx="209.5" cy="1225.1" r="8.3" fill="#fff" stroke="#000" stroke-width="2.2"/>
<circle cx="213.5" cy="1213.0" r="8.3" fill="#fff" stroke="#000" stroke-width="2.2"/>
<circle cx="220.3" cy="1211.1" r="8.3" fill="#fff" stroke="#000" stroke-width="2.2"/>
<circle cx="224.3" cy="1195.4" r="8.3" fill="#fff" stroke="#000" stroke-width="2.2"/>
<circle cx="229.2" cy="1200.8" r="8.3" fill="#fff" stroke="#000" stroke-width="2.2"/>
<circle cx="240.0" cy="1177.8" r="8.3" fill="#fff" stroke="#000" stroke-width="2.2"/>
<circle cx="294.0" cy="1156.8" r="8.3" fill="#fff" stroke="#000" stroke-width="2.2"/>
<circle cx="391.6" cy="1117.6" r="8.3" fill="#fff" stroke="#000" stroke-width="2.2"/>
<circle cx="574.3" cy="1092.7" r="8.3" fill="#fff" stroke="#000" stroke-width="2.2"/>
<circle cx="194.6" cy="1308.9" r="9.3" fill="#000"/>
<circle cx="194.6" cy="1303.5" r="9.3" fill="#000"/>
<circle cx="194.6" cy="1298.1" r="9.3" fill="#000"/>
<circle cx="205.4" cy="1284.6" r="9.3" fill="#000"/>
<circle cx="209.5" cy="1272.4" r="9.3" fill="#000"/>
<circle cx="216.2" cy="1281.9" r="9.3" fill="#000"/>
<circle cx="220.3" cy="1269.7" r="9.3" fill="#000"/>
<circle cx="226.5" cy="1263.0" r="9.3" fill="#000"/>
<circle cx="229.7" cy="1258.9" r="9.3" fill="#000"/>
<circle cx="239.2" cy="1258.9" r="9.3" fill="#000"/>
<circle cx="241.9" cy="1263.0" r="9.3" fill="#000"/>
<circle cx="294.0" cy="1238.6" r="9.3" fill="#000"/>
<circle cx="391.6" cy="1215.7" r="9.3" fill="#000"/>
<circle cx="574.3" cy="1194.1" r="9.3" fill="#000"/>
<circle cx="544.6" cy="1323.8" r="10" fill="#000"/>
<circle cx="541.9" cy="1357.6" r="9.9" fill="#fff" stroke="#000" stroke-width="2.4"/>
<text x="569.5" y="1329.1" font-size="23" text-anchor="start" font-weight="normal" font-style="italic" textLength="46" lengthAdjust="spacingAndGlyphs" >Syn</text>
<text x="569.5" y="1360.6" font-size="23" text-anchor="start" font-weight="normal" font-style="normal" textLength="59.5" lengthAdjust="spacingAndGlyphs" >Peuk</text>
<line x1="762.2" y1="975.1" x2="762.2" y2="1394" stroke="#000" stroke-width="2"/>
<line x1="761.2" y1="1393" x2="1212.4" y2="1393" stroke="#000" stroke-width="2"/>
<line x1="752.7" y1="1007.8" x2="762.2" y2="1007.8" stroke="#333" stroke-width="1.2"/>
<text x="750.4" y="1017.4" font-size="27" text-anchor="end" font-weight="normal" font-style="normal" textLength="55" lengthAdjust="spacingAndGlyphs" >1.05</text>
<line x1="752.7" y1="1080.9" x2="762.2" y2="1080.9" stroke="#333" stroke-width="1.2"/>
<text x="750.4" y="1090.5" font-size="27" text-anchor="end" font-weight="normal" font-style="normal" textLength="55" lengthAdjust="spacingAndGlyphs" >0.85</text>
<line x1="752.7" y1="1154.1" x2="762.2" y2="1154.1" stroke="#333" stroke-width="1.2"/>
<text x="750.4" y="1163.7" font-size="27" text-anchor="end" font-weight="normal" font-style="normal" textLength="55" lengthAdjust="spacingAndGlyphs" >0.65</text>
<line x1="752.7" y1="1227.2" x2="762.2" y2="1227.2" stroke="#333" stroke-width="1.2"/>
<text x="750.4" y="1236.8" font-size="27" text-anchor="end" font-weight="normal" font-style="normal" textLength="55" lengthAdjust="spacingAndGlyphs" >0.45</text>
<line x1="752.7" y1="1300.4" x2="762.2" y2="1300.4" stroke="#333" stroke-width="1.2"/>
<text x="750.4" y="1310.0" font-size="27" text-anchor="end" font-weight="normal" font-style="normal" textLength="55" lengthAdjust="spacingAndGlyphs" >0.25</text>
<line x1="752.7" y1="1373.5" x2="762.2" y2="1373.5" stroke="#333" stroke-width="1.2"/>
<text x="750.4" y="1383.1" font-size="27" text-anchor="end" font-weight="normal" font-style="normal" textLength="55" lengthAdjust="spacingAndGlyphs" >0.05</text>
<line x1="782.3" y1="1393" x2="782.3" y2="1404" stroke="#333" stroke-width="1.2"/>
<text x="782.3" y="1424.3" font-size="27" text-anchor="middle" font-weight="normal" font-style="normal" textLength="38.6" lengthAdjust="spacingAndGlyphs" >0.0</text>
<line x1="880.8" y1="1393" x2="880.8" y2="1404" stroke="#333" stroke-width="1.2"/>
<text x="880.8" y="1424.3" font-size="27" text-anchor="middle" font-weight="normal" font-style="normal" textLength="38.6" lengthAdjust="spacingAndGlyphs" >0.7</text>
<line x1="979.3" y1="1393" x2="979.3" y2="1404" stroke="#333" stroke-width="1.2"/>
<text x="979.3" y="1424.3" font-size="27" text-anchor="middle" font-weight="normal" font-style="normal" textLength="38.6" lengthAdjust="spacingAndGlyphs" >1.4</text>
<line x1="1077.8" y1="1393" x2="1077.8" y2="1404" stroke="#333" stroke-width="1.2"/>
<text x="1077.8" y="1424.3" font-size="27" text-anchor="middle" font-weight="normal" font-style="normal" textLength="38.6" lengthAdjust="spacingAndGlyphs" >2.1</text>
<line x1="1176.3" y1="1393" x2="1176.3" y2="1404" stroke="#333" stroke-width="1.2"/>
<text x="1176.3" y="1424.3" font-size="27" text-anchor="middle" font-weight="normal" font-style="normal" textLength="38.6" lengthAdjust="spacingAndGlyphs" >2.8</text>
<text x="774.3" y="1000.7" font-size="30.5" text-anchor="start" font-weight="normal" font-style="normal" textLength="111" lengthAdjust="spacingAndGlyphs" >Day 218</text>
<text x="660.5" y="971.4" font-size="35" text-anchor="start" font-weight="bold" font-style="normal" >F</text>
<path d="M782.3,1318.3 L789.1,1304.7 L796.0,1292.8 L802.8,1282.5 L809.7,1273.5 L816.5,1265.7 L823.4,1258.8 L830.2,1252.9 L837.0,1247.7 L843.9,1243.1 L850.7,1239.2 L857.6,1235.8 L864.4,1232.8 L871.3,1230.2 L878.1,1227.9 L884.9,1225.9 L891.8,1224.2 L898.6,1222.7 L905.5,1221.3 L912.3,1220.2 L919.1,1219.2 L926.0,1218.3 L932.8,1217.6 L939.7,1216.9 L946.5,1216.3 L953.4,1215.8 L960.2,1215.4 L967.0,1215.0 L973.9,1214.7 L980.7,1214.4 L987.6,1214.1 L994.4,1213.9 L1001.3,1213.7 L1008.1,1213.6 L1014.9,1213.4 L1021.8,1213.3 L1028.6,1213.2 L1035.5,1213.1 L1042.3,1213.0 L1049.2,1212.9 L1056.0,1212.9 L1062.8,1212.8 L1069.7,1212.7 L1076.5,1212.7 L1083.4,1212.7 L1090.2,1212.6 L1097.0,1212.6 L1103.9,1212.6 L1110.7,1212.6 L1117.6,1212.5 L1124.4,1212.5 L1131.3,1212.5 L1138.1,1212.5 L1144.9,1212.5 L1151.8,1212.5 L1158.6,1212.5 L1165.5,1212.5 L1172.3,1212.5 L1179.2,1212.5 L1186.0,1212.5" fill="none" stroke="#000" stroke-width="2"/>
<path d="M782.3,1218.0 L789.1,1191.1 L796.0,1168.9 L802.8,1150.4 L809.7,1135.2 L816.5,1122.6 L823.4,1112.2 L830.2,1103.6 L837.0,1096.4 L843.9,1090.5 L850.7,1085.6 L857.6,1081.6 L864.4,1078.3 L871.3,1075.5 L878.1,1073.2 L884.9,1071.3 L891.8,1069.8 L898.6,1068.5 L905.5,1067.4 L912.3,1066.5 L919.1,1065.8 L926.0,1065.2 L932.8,1064.7 L939.7,1064.2 L946.5,1063.9 L953.4,1063.6 L960.2,1063.4 L967.0,1063.2 L973.9,1063.0 L980.7,1062.9 L987.6,1062.8 L994.4,1062.7 L1001.3,1062.6 L1008.1,1062.6 L1014.9,1062.5 L1021.8,1062.5 L1028.6,1062.4 L1035.5,1062.4 L1042.3,1062.4 L1049.2,1062.4 L1056.0,1062.3 L1062.8,1062.3 L1069.7,1062.3 L1076.5,1062.3 L1083.4,1062.3 L1090.2,1062.3 L1097.0,1062.3 L1103.9,1062.3 L1110.7,1062.3 L1117.6,1062.3 L1124.4,1062.3 L1131.3,1062.3 L1138.1,1062.3 L1144.9,1062.3 L1151.8,1062.3 L1158.6,1062.3 L1165.5,1062.3 L1172.3,1062.3 L1179.2,1062.3 L1186.0,1062.3" fill="none" stroke="#000" stroke-width="2"/>
<circle cx="782.3" cy="1235.7" r="8.3" fill="#fff" stroke="#000" stroke-width="2.2"/>
<circle cx="782.3" cy="1211.6" r="8.3" fill="#fff" stroke="#000" stroke-width="2.2"/>
<circle cx="791.9" cy="1193.5" r="8.3" fill="#fff" stroke="#000" stroke-width="2.2"/>
<circle cx="795.6" cy="1168.4" r="8.3" fill="#fff" stroke="#000" stroke-width="2.2"/>
<circle cx="800.6" cy="1158.9" r="8.3" fill="#fff" stroke="#000" stroke-width="2.2"/>
<circle cx="805.2" cy="1137.8" r="8.3" fill="#fff" stroke="#000" stroke-width="2.2"/>
<circle cx="808.7" cy="1125.7" r="8.3" fill="#fff" stroke="#000" stroke-width="2.2"/>
<circle cx="813.2" cy="1122.0" r="8.3" fill="#fff" stroke="#000" stroke-width="2.2"/>
<circle cx="822.0" cy="1115.7" r="8.3" fill="#fff" stroke="#000" stroke-width="2.2"/>
<circle cx="872.2" cy="1112.7" r="8.3" fill="#fff" stroke="#000" stroke-width="2.2"/>
<circle cx="958.9" cy="1080.6" r="8.3" fill="#fff" stroke="#000" stroke-width="2.2"/>
<circle cx="1127.1" cy="1048.4" r="8.3" fill="#fff" stroke="#000" stroke-width="2.2"/>
<circle cx="1186.6" cy="1037.9" r="8.3" fill="#fff" stroke="#000" stroke-width="2.2"/>
<circle cx="782.3" cy="1322.8" r="9.3" fill="#000"/>
<circle cx="782.3" cy="1319.0" r="9.3" fill="#000"/>
<circle cx="790.6" cy="1297.7" r="9.3" fill="#000"/>
<circle cx="796.9" cy="1300.2" r="9.3" fill="#000"/>
<circle cx="800.6" cy="1281.4" r="9.3" fill="#000"/>
<circle cx="804.4" cy="1272.6" r="9.3" fill="#000"/>
<circle cx="810.7" cy="1271.3" r="9.3" fill="#000"/>
<circle cx="813.2" cy="1276.3" r="9.3" fill="#000"/>
<circle cx="822.0" cy="1261.3" r="9.3" fill="#000"/>
<circle cx="872.2" cy="1242.5" r="9.3" fill="#000"/>
<circle cx="958.9" cy="1219.1" r="9.3" fill="#000"/>
<circle cx="1127.1" cy="1211.1" r="9.3" fill="#000"/>
<circle cx="1186.6" cy="1208.1" r="9.3" fill="#000"/>
<circle cx="1131.6" cy="1324.0" r="10" fill="#000"/>
<circle cx="1129.6" cy="1357.9" r="9.9" fill="#fff" stroke="#000" stroke-width="2.4"/>
<text x="1157.2" y="1329.3" font-size="23" text-anchor="start" font-weight="normal" font-style="italic" textLength="46" lengthAdjust="spacingAndGlyphs" >Syn</text>
<text x="1157.2" y="1360.8" font-size="23" text-anchor="start" font-weight="normal" font-style="normal" textLength="59.5" lengthAdjust="spacingAndGlyphs" >Peuk</text>
<line x1="174.3" y1="1470.5" x2="174.3" y2="1889.6" stroke="#000" stroke-width="2"/>
<line x1="173.3" y1="1888.6" x2="625.7" y2="1888.6" stroke="#000" stroke-width="2"/>
<line x1="164.8" y1="1503.5" x2="174.3" y2="1503.5" stroke="#333" stroke-width="1.2"/>
<text x="162.5" y="1513.1" font-size="27" text-anchor="end" font-weight="normal" font-style="normal" textLength="55" lengthAdjust="spacingAndGlyphs" >1.05</text>
<line x1="164.8" y1="1576.6" x2="174.3" y2="1576.6" stroke="#333" stroke-width="1.2"/>
<text x="162.5" y="1586.2" font-size="27" text-anchor="end" font-weight="normal" font-style="normal" textLength="55" lengthAdjust="spacingAndGlyphs" >0.85</text>
<line x1="164.8" y1="1649.8" x2="174.3" y2="1649.8" stroke="#333" stroke-width="1.2"/>
<text x="162.5" y="1659.4" font-size="27" text-anchor="end" font-weight="normal" font-style="normal" textLength="55" lengthAdjust="spacingAndGlyphs" >0.65</text>
<line x1="164.8" y1="1722.9" x2="174.3" y2="1722.9" stroke="#333" stroke-width="1.2"/>
<text x="162.5" y="1732.5" font-size="27" text-anchor="end" font-weight="normal" font-style="normal" textLength="55" lengthAdjust="spacingAndGlyphs" >0.45</text>
<line x1="164.8" y1="1796.1" x2="174.3" y2="1796.1" stroke="#333" stroke-width="1.2"/>
<text x="162.5" y="1805.7" font-size="27" text-anchor="end" font-weight="normal" font-style="normal" textLength="55" lengthAdjust="spacingAndGlyphs" >0.25</text>
<line x1="164.8" y1="1869.2" x2="174.3" y2="1869.2" stroke="#333" stroke-width="1.2"/>
<text x="162.5" y="1878.8" font-size="27" text-anchor="end" font-weight="normal" font-style="normal" textLength="55" lengthAdjust="spacingAndGlyphs" >0.05</text>
<line x1="194.6" y1="1888.6" x2="194.6" y2="1899.6" stroke="#333" stroke-width="1.2"/>
<text x="194.6" y="1919.9" font-size="27" text-anchor="middle" font-weight="normal" font-style="normal" textLength="38.6" lengthAdjust="spacingAndGlyphs" >0.0</text>
<line x1="293.0" y1="1888.6" x2="293.0" y2="1899.6" stroke="#333" stroke-width="1.2"/>
<text x="293.0" y="1919.9" font-size="27" text-anchor="middle" font-weight="normal" font-style="normal" textLength="38.6" lengthAdjust="spacingAndGlyphs" >0.6</text>
<line x1="391.4" y1="1888.6" x2="391.4" y2="1899.6" stroke="#333" stroke-width="1.2"/>
<text x="391.4" y="1919.9" font-size="27" text-anchor="middle" font-weight="normal" font-style="normal" textLength="38.6" lengthAdjust="spacingAndGlyphs" >1.2</text>
<line x1="489.8" y1="1888.6" x2="489.8" y2="1899.6" stroke="#333" stroke-width="1.2"/>
<text x="489.8" y="1919.9" font-size="27" text-anchor="middle" font-weight="normal" font-style="normal" textLength="38.6" lengthAdjust="spacingAndGlyphs" >1.8</text>
<line x1="588.2" y1="1888.6" x2="588.2" y2="1899.6" stroke="#333" stroke-width="1.2"/>
<text x="588.2" y="1919.9" font-size="27" text-anchor="middle" font-weight="normal" font-style="normal" textLength="38.6" lengthAdjust="spacingAndGlyphs" >2.4</text>
<text x="184.8" y="1496.7" font-size="30.5" text-anchor="start" font-weight="normal" font-style="normal" textLength="111" lengthAdjust="spacingAndGlyphs" >Day 220</text>
<text x="2.0" y="1481.4" font-size="35" text-anchor="start" font-weight="bold" font-style="normal" >G</text>
<path d="M194.6,1789.9 L201.3,1785.3 L208.0,1780.9 L214.7,1776.7 L221.4,1772.7 L228.1,1768.9 L234.8,1765.2 L241.5,1761.8 L248.2,1758.5 L254.9,1755.3 L261.6,1752.4 L268.3,1749.5 L275.0,1746.8 L281.7,1744.2 L288.4,1741.8 L295.1,1739.4 L301.8,1737.2 L308.5,1735.1 L315.2,1733.1 L321.9,1731.1 L328.6,1729.3 L335.3,1727.6 L342.0,1725.9 L348.7,1724.3 L355.4,1722.8 L362.1,1721.4 L368.8,1720.0 L375.5,1718.7 L382.2,1717.5 L388.9,1716.3 L395.7,1715.2 L402.4,1714.1 L409.1,1713.1 L415.8,1712.1 L422.5,1711.2 L429.2,1710.3 L435.9,1709.4 L442.6,1708.6 L449.3,1707.9 L456.0,1707.1 L462.7,1706.5 L469.4,1705.8 L476.1,1705.2 L482.8,1704.6 L489.5,1704.0 L496.2,1703.5 L502.9,1702.9 L509.6,1702.5 L516.3,1702.0 L523.0,1701.5 L529.7,1701.1 L536.4,1700.7 L543.1,1700.3 L549.8,1700.0 L556.5,1699.6 L563.2,1699.3 L569.9,1699.0 L576.6,1698.7 L583.3,1698.4 L590.0,1698.1" fill="none" stroke="#000" stroke-width="2"/>
<path d="M196.0,1726.6 L202.7,1699.4 L209.4,1677.6 L216.0,1660.1 L222.7,1646.1 L229.4,1634.9 L236.1,1625.9 L242.7,1618.7 L249.4,1612.9 L256.1,1608.2 L262.8,1604.5 L269.5,1601.5 L276.1,1599.1 L282.8,1597.2 L289.5,1595.7 L296.2,1594.4 L302.8,1593.5 L309.5,1592.7 L316.2,1592.0 L322.9,1591.5 L329.6,1591.1 L336.2,1590.8 L342.9,1590.5 L349.6,1590.3 L356.3,1590.1 L362.9,1590.0 L369.6,1589.9 L376.3,1589.8 L383.0,1589.7 L389.7,1589.7 L396.3,1589.6 L403.0,1589.6 L409.7,1589.6 L416.4,1589.6 L423.1,1589.5 L429.7,1589.5 L436.4,1589.5 L443.1,1589.5 L449.8,1589.5 L456.4,1589.5 L463.1,1589.5 L469.8,1589.5 L476.5,1589.5 L483.2,1589.5 L489.8,1589.5 L496.5,1589.5 L503.2,1589.5 L509.9,1589.5 L516.5,1589.5 L523.2,1589.5 L529.9,1589.5 L536.6,1589.5 L543.3,1589.5 L549.9,1589.5 L556.6,1589.5 L563.3,1589.5 L570.0,1589.5 L576.6,1589.5 L583.3,1589.5 L590.0,1589.5" fill="none" stroke="#000" stroke-width="2"/>
<circle cx="194.6" cy="1731.4" r="8.3" fill="#fff" stroke="#000" stroke-width="2.2"/>
<circle cx="194.6" cy="1726.8" r="8.3" fill="#fff" stroke="#000" stroke-width="2.2"/>
<circle cx="194.6" cy="1751.1" r="8.3" fill="#fff" stroke="#000" stroke-width="2.2"/>
<circle cx="204.0" cy="1698.9" r="8.3" fill="#fff" stroke="#000" stroke-width="2.2"/>
<circle cx="208.1" cy="1672.7" r="8.3" fill="#fff" stroke="#000" stroke-width="2.2"/>
<circle cx="212.2" cy="1650.3" r="8.3" fill="#fff" stroke="#000" stroke-width="2.2"/>
<circle cx="217.6" cy="1663.8" r="8.3" fill="#fff" stroke="#000" stroke-width="2.2"/>
<circle cx="221.6" cy="1650.3" r="8.3" fill="#fff" stroke="#000" stroke-width="2.2"/>
<circle cx="225.7" cy="1647.6" r="8.3" fill="#fff" stroke="#000" stroke-width="2.2"/>
<circle cx="234.6" cy="1629.5" r="8.3" fill="#fff" stroke="#000" stroke-width="2.2"/>
<circle cx="282.4" cy="1610.5" r="8.3" fill="#fff" stroke="#000" stroke-width="2.2"/>
<circle cx="364.9" cy="1594.9" r="8.3" fill="#fff" stroke="#000" stroke-width="2.2"/>
<circle cx="528.4" cy="1582.7" r="8.3" fill="#fff" stroke="#000" stroke-width="2.2"/>
<circle cx="590.3" cy="1578.6" r="8.3" fill="#fff" stroke="#000" stroke-width="2.2"/>
<circle cx="194.6" cy="1803.0" r="9.3" fill="#000"/>
<circle cx="194.6" cy="1797.6" r="9.3" fill="#000"/>
<circle cx="194.6" cy="1792.2" r="9.3" fill="#000"/>
<circle cx="204.0" cy="1778.6" r="9.3" fill="#000"/>
<circle cx="207.6" cy="1773.2" r="9.3" fill="#000"/>
<circle cx="217.6" cy="1774.6" r="9.3" fill="#000"/>
<circle cx="220.3" cy="1767.3" r="9.3" fill="#000"/>
<circle cx="227.0" cy="1767.8" r="9.3" fill="#000"/>
<circle cx="234.6" cy="1762.4" r="9.3" fill="#000"/>
<circle cx="236.5" cy="1765.1" r="9.3" fill="#000"/>
<circle cx="282.4" cy="1742.2" r="9.3" fill="#000"/>
<circle cx="364.9" cy="1731.4" r="9.3" fill="#000"/>
<circle cx="528.4" cy="1717.0" r="9.3" fill="#000"/>
<circle cx="590.3" cy="1680.0" r="9.3" fill="#000"/>
<circle cx="544.6" cy="1819.2" r="10" fill="#000"/>
<circle cx="541.9" cy="1853.5" r="9.9" fill="#fff" stroke="#000" stroke-width="2.4"/>
<text x="569.5" y="1824.5" font-size="23" text-anchor="start" font-weight="normal" font-style="italic" textLength="46" lengthAdjust="spacingAndGlyphs" >Syn</text>
<text x="569.5" y="1856.0" font-size="23" text-anchor="start" font-weight="normal" font-style="normal" textLength="59.5" lengthAdjust="spacingAndGlyphs" >Peuk</text>
<line x1="762.2" y1="1470.2" x2="762.2" y2="1889.1" stroke="#000" stroke-width="2"/>
<line x1="761.2" y1="1888.1" x2="1212.4" y2="1888.1" stroke="#000" stroke-width="2"/>
<line x1="752.7" y1="1503.5" x2="762.2" y2="1503.5" stroke="#333" stroke-width="1.2"/>
<text x="750.4" y="1513.1" font-size="27" text-anchor="end" font-weight="normal" font-style="normal" textLength="55" lengthAdjust="spacingAndGlyphs" >1.05</text>
<line x1="752.7" y1="1576.7" x2="762.2" y2="1576.7" stroke="#333" stroke-width="1.2"/>
<text x="750.4" y="1586.3" font-size="27" text-anchor="end" font-weight="normal" font-style="normal" textLength="55" lengthAdjust="spacingAndGlyphs" >0.85</text>
<line x1="752.7" y1="1649.8" x2="762.2" y2="1649.8" stroke="#333" stroke-width="1.2"/>
<text x="750.4" y="1659.4" font-size="27" text-anchor="end" font-weight="normal" font-style="normal" textLength="55" lengthAdjust="spacingAndGlyphs" >0.65</text>
<line x1="752.7" y1="1723.0" x2="762.2" y2="1723.0" stroke="#333" stroke-width="1.2"/>
<text x="750.4" y="1732.6" font-size="27" text-anchor="end" font-weight="normal" font-style="normal" textLength="55" lengthAdjust="spacingAndGlyphs" >0.45</text>
<line x1="752.7" y1="1796.1" x2="762.2" y2="1796.1" stroke="#333" stroke-width="1.2"/>
<text x="750.4" y="1805.7" font-size="27" text-anchor="end" font-weight="normal" font-style="normal" textLength="55" lengthAdjust="spacingAndGlyphs" >0.25</text>
<line x1="752.7" y1="1869.3" x2="762.2" y2="1869.3" stroke="#333" stroke-width="1.2"/>
<text x="750.4" y="1878.9" font-size="27" text-anchor="end" font-weight="normal" font-style="normal" textLength="55" lengthAdjust="spacingAndGlyphs" >0.05</text>
<line x1="782.3" y1="1888.1" x2="782.3" y2="1899.1" stroke="#333" stroke-width="1.2"/>
<text x="782.3" y="1919.4" font-size="27" text-anchor="middle" font-weight="normal" font-style="normal" textLength="38.6" lengthAdjust="spacingAndGlyphs" >0.0</text>
<line x1="879.2" y1="1888.1" x2="879.2" y2="1899.1" stroke="#333" stroke-width="1.2"/>
<text x="879.2" y="1919.4" font-size="27" text-anchor="middle" font-weight="normal" font-style="normal" textLength="38.6" lengthAdjust="spacingAndGlyphs" >0.9</text>
<line x1="976.1" y1="1888.1" x2="976.1" y2="1899.1" stroke="#333" stroke-width="1.2"/>
<text x="976.1" y="1919.4" font-size="27" text-anchor="middle" font-weight="normal" font-style="normal" textLength="38.6" lengthAdjust="spacingAndGlyphs" >1.8</text>
<line x1="1073.0" y1="1888.1" x2="1073.0" y2="1899.1" stroke="#333" stroke-width="1.2"/>
<text x="1073.0" y="1919.4" font-size="27" text-anchor="middle" font-weight="normal" font-style="normal" textLength="38.6" lengthAdjust="spacingAndGlyphs" >2.7</text>
<line x1="1169.9" y1="1888.1" x2="1169.9" y2="1899.1" stroke="#333" stroke-width="1.2"/>
<text x="1169.9" y="1919.4" font-size="27" text-anchor="middle" font-weight="normal" font-style="normal" textLength="38.6" lengthAdjust="spacingAndGlyphs" >3.6</text>
<text x="774.3" y="1497.0" font-size="30.5" text-anchor="start" font-weight="normal" font-style="normal" textLength="111" lengthAdjust="spacingAndGlyphs" >Day 227</text>
<text x="661.0" y="1481.5" font-size="35" text-anchor="start" font-weight="bold" font-style="normal" >H</text>
<path d="M783.0,1855.7 L789.8,1836.4 L796.6,1819.7 L803.4,1805.4 L810.2,1793.0 L817.0,1782.4 L823.8,1773.2 L830.6,1765.4 L837.4,1758.6 L844.2,1752.7 L851.0,1747.7 L857.8,1743.3 L864.6,1739.6 L871.4,1736.4 L878.2,1733.6 L884.9,1731.2 L891.7,1729.2 L898.5,1727.4 L905.3,1725.9 L912.1,1724.6 L918.9,1723.5 L925.7,1722.5 L932.5,1721.7 L939.3,1720.9 L946.1,1720.3 L952.9,1719.8 L959.7,1719.3 L966.5,1718.9 L973.3,1718.6 L980.1,1718.3 L986.9,1718.0 L993.7,1717.8 L1000.5,1717.6 L1007.3,1717.5 L1014.1,1717.3 L1020.9,1717.2 L1027.7,1717.1 L1034.5,1717.0 L1041.3,1716.9 L1048.1,1716.9 L1054.9,1716.8 L1061.7,1716.8 L1068.5,1716.7 L1075.3,1716.7 L1082.1,1716.7 L1088.8,1716.6 L1095.6,1716.6 L1102.4,1716.6 L1109.2,1716.6 L1116.0,1716.5 L1122.8,1716.5 L1129.6,1716.5 L1136.4,1716.5 L1143.2,1716.5 L1150.0,1716.5 L1156.8,1716.5 L1163.6,1716.5 L1170.4,1716.5 L1177.2,1716.5 L1184.0,1716.5" fill="none" stroke="#000" stroke-width="2"/>
<path d="M790.0,1715.4 L796.7,1704.9 L803.4,1696.2 L810.0,1688.8 L816.7,1682.6 L823.4,1677.4 L830.1,1673.0 L836.7,1669.3 L843.4,1666.2 L850.1,1663.6 L856.8,1661.4 L863.5,1659.5 L870.1,1658.0 L876.8,1656.7 L883.5,1655.6 L890.2,1654.6 L896.8,1653.9 L903.5,1653.2 L910.2,1652.7 L916.9,1652.2 L923.6,1651.8 L930.2,1651.5 L936.9,1651.2 L943.6,1651.0 L950.3,1650.8 L956.9,1650.6 L963.6,1650.5 L970.3,1650.4 L977.0,1650.3 L983.7,1650.2 L990.3,1650.1 L997.0,1650.1 L1003.7,1650.0 L1010.4,1650.0 L1017.1,1649.9 L1023.7,1649.9 L1030.4,1649.9 L1037.1,1649.9 L1043.8,1649.8 L1050.4,1649.8 L1057.1,1649.8 L1063.8,1649.8 L1070.5,1649.8 L1077.2,1649.8 L1083.8,1649.8 L1090.5,1649.8 L1097.2,1649.8 L1103.9,1649.8 L1110.5,1649.8 L1117.2,1649.8 L1123.9,1649.8 L1130.6,1649.8 L1137.3,1649.8 L1143.9,1649.8 L1150.6,1649.8 L1157.3,1649.8 L1164.0,1649.8 L1170.6,1649.8 L1177.3,1649.8 L1184.0,1649.8" fill="none" stroke="#000" stroke-width="2"/>
<circle cx="782.3" cy="1770.1" r="8.3" fill="#fff" stroke="#000" stroke-width="2.2"/>
<circle cx="782.3" cy="1755.5" r="8.3" fill="#fff" stroke="#000" stroke-width="2.2"/>
<circle cx="782.3" cy="1738.7" r="8.3" fill="#fff" stroke="#000" stroke-width="2.2"/>
<circle cx="787.6" cy="1725.7" r="8.3" fill="#fff" stroke="#000" stroke-width="2.2"/>
<circle cx="790.1" cy="1711.6" r="8.3" fill="#fff" stroke="#000" stroke-width="2.2"/>
<circle cx="787.6" cy="1699.8" r="8.3" fill="#fff" stroke="#000" stroke-width="2.2"/>
<circle cx="794.4" cy="1698.1" r="8.3" fill="#fff" stroke="#000" stroke-width="2.2"/>
<circle cx="798.1" cy="1710.6" r="8.3" fill="#fff" stroke="#000" stroke-width="2.2"/>
<circle cx="804.4" cy="1707.4" r="8.3" fill="#fff" stroke="#000" stroke-width="2.2"/>
<circle cx="832.0" cy="1686.0" r="8.3" fill="#fff" stroke="#000" stroke-width="2.2"/>
<circle cx="882.2" cy="1659.7" r="8.3" fill="#fff" stroke="#000" stroke-width="2.2"/>
<circle cx="979.7" cy="1640.3" r="8.3" fill="#fff" stroke="#000" stroke-width="2.2"/>
<circle cx="1004.1" cy="1650.9" r="8.3" fill="#fff" stroke="#000" stroke-width="2.2"/>
<circle cx="1184.1" cy="1648.4" r="8.3" fill="#fff" stroke="#000" stroke-width="2.2"/>
<circle cx="781.1" cy="1859.2" r="9.3" fill="#000"/>
<circle cx="788.1" cy="1855.5" r="9.3" fill="#000"/>
<circle cx="791.5" cy="1826.8" r="9.3" fill="#000"/>
<circle cx="788.5" cy="1811.6" r="9.3" fill="#000"/>
<circle cx="794.6" cy="1801.0" r="9.3" fill="#000"/>
<circle cx="800.5" cy="1819.2" r="9.3" fill="#000"/>
<circle cx="804.4" cy="1794.0" r="9.3" fill="#000"/>
<circle cx="832.0" cy="1775.9" r="9.3" fill="#000"/>
<circle cx="881.7" cy="1743.8" r="9.3" fill="#000"/>
<circle cx="979.7" cy="1713.1" r="9.3" fill="#000"/>
<circle cx="1004.1" cy="1719.9" r="9.3" fill="#000"/>
<circle cx="1184.1" cy="1707.4" r="9.3" fill="#000"/>
<circle cx="1127.1" cy="1820.3" r="10" fill="#000"/>
<circle cx="1125.3" cy="1854.2" r="9.9" fill="#fff" stroke="#000" stroke-width="2.4"/>
<text x="1153.4" y="1825.6" font-size="23" text-anchor="start" font-weight="normal" font-style="italic" textLength="46" lengthAdjust="spacingAndGlyphs" >Syn</text>
<text x="1153.4" y="1857.1" font-size="23" text-anchor="start" font-weight="normal" font-style="normal" textLength="59.5" lengthAdjust="spacingAndGlyphs" >Peuk</text>
<text id="ab1" transform="translate(118.8,394.9) rotate(-90)" x="-1.21" y="0" font-size="31" font-style="normal" style="fill:#000" textLength="210.89" lengthAdjust="spacingAndGlyphs">Abundance (10</text>
<text id="ab2" transform="translate(118.8,394.9) rotate(-90)" x="208.71" y="-12" font-size="20" font-style="normal" style="fill:#000" textLength="14.39" lengthAdjust="spacingAndGlyphs">3</text>
<text id="ab3" transform="translate(118.8,394.9) rotate(-90)" x="229.87" y="0" font-size="31" font-style="normal" style="fill:#000" textLength="63.11" lengthAdjust="spacingAndGlyphs">cells</text>
<text id="ab4" transform="translate(118.8,394.9) rotate(-90)" x="300.93" y="0" font-size="31" font-style="normal" style="fill:#000" textLength="34.06" lengthAdjust="spacingAndGlyphs">ml</text>
<text id="ab5" transform="translate(118.8,394.9) rotate(-90)" x="334.10" y="-12" font-size="20" font-style="normal" style="fill:#000" textLength="21.92" lengthAdjust="spacingAndGlyphs">−1</text>
<text id="ab6" transform="translate(118.8,394.9) rotate(-90)" x="358.85" y="0" font-size="31" font-style="normal" style="fill:#000" textLength="11.22" lengthAdjust="spacingAndGlyphs">)</text>
<text id="ap1" transform="translate(74.9,1150.8) rotate(-90)" x="-1.06" y="0" font-size="39.4" font-style="normal" style="fill:#000" textLength="170.96" lengthAdjust="spacingAndGlyphs">Apparent</text>
<text id="ap2" transform="translate(74.9,1150.8) rotate(-90)" x="173.17" y="0" font-size="39.4" font-style="normal" style="fill:#000" textLength="126.57" lengthAdjust="spacingAndGlyphs">growth</text>
<text id="ap3" transform="translate(74.9,1150.8) rotate(-90)" x="309.12" y="0" font-size="39.4" font-style="normal" style="fill:#000" textLength="14.98" lengthAdjust="spacingAndGlyphs">(</text>
<text id="ap4" transform="translate(74.9,1150.8) rotate(-90)" x="325.92" y="0" font-size="39.4" font-style="italic" style="fill:#000" textLength="15.60" lengthAdjust="spacingAndGlyphs">μ</text>
<text id="ap5" transform="translate(74.9,1150.8) rotate(-90)" x="341.91" y="8" font-size="25" font-style="italic" style="fill:#000" textLength="49.15" lengthAdjust="spacingAndGlyphs">app</text>
<text id="ap6" transform="translate(74.9,1150.8) rotate(-90)" x="395.71" y="0" font-size="39.4" font-style="normal" style="fill:#000" textLength="22.42" lengthAdjust="spacingAndGlyphs">d</text>
<text id="ap7" transform="translate(74.9,1150.8) rotate(-90)" x="419.61" y="-12" font-size="27" font-style="normal" style="fill:#000" textLength="20.91" lengthAdjust="spacingAndGlyphs">-1</text>
<text id="ap8" transform="translate(74.9,1150.8) rotate(-90)" x="443.82" y="0" font-size="39.4" font-style="normal" style="fill:#000" textLength="12.38" lengthAdjust="spacingAndGlyphs">)</text>
<text id="bt1" x="375.48" y="1980" font-size="39.5" font-style="normal" style="fill:#000" textLength="338.30" lengthAdjust="spacingAndGlyphs">Surrogate addition</text>
<text id="bt2" x="716.53" y="1980" font-size="39.5" font-style="normal" style="fill:#000" textLength="58.05" lengthAdjust="spacingAndGlyphs">(10</text>
<text id="bt3" x="776.67" y="1968.5" font-size="27" font-style="normal" style="fill:#000" textLength="15.83" lengthAdjust="spacingAndGlyphs">6</text>
<text id="bt4" x="800.95" y="1980" font-size="39.5" font-style="normal" style="fill:#000" textLength="107.93" lengthAdjust="spacingAndGlyphs">beads</text>
<text id="bt5" x="915.36" y="1980" font-size="39.5" font-style="normal" style="fill:#000" textLength="41.99" lengthAdjust="spacingAndGlyphs">ml</text>
<text id="bt6" x="956.00" y="1968.7" font-size="28" font-style="normal" style="fill:#000" textLength="20.76" lengthAdjust="spacingAndGlyphs">-1</text>
<text id="bt7" x="981.22" y="1980" font-size="39.5" font-style="normal" style="fill:#000" textLength="11.78" lengthAdjust="spacingAndGlyphs">)</text>
</svg></body></html>
